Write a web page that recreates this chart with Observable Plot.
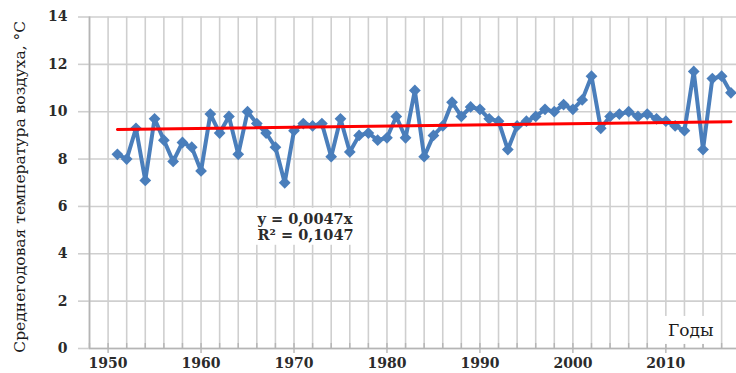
<!DOCTYPE html>
<html>
<head>
<meta charset="utf-8">
<script src="https://cdn.jsdelivr.net/npm/d3@7"></script>
<script src="https://cdn.jsdelivr.net/npm/@observablehq/plot@0.6"></script>
<style>
  html, body { margin: 0; padding: 0; background: #fff; }
  svg { display: block; }
</style>
</head>
<body>
<div id="chart"></div>
<script>
// ---- data ----
const years = [1951,1952,1953,1954,1955,1956,1957,1958,1959,1960,
               1961,1962,1963,1964,1965,1966,1967,1968,1969,1970,
               1971,1972,1973,1974,1975,1976,1977,1978,1979,1980,
               1981,1982,1983,1984,1985,1986,1987,1988,1989,1990,
               1991,1992,1993,1994,1995,1996,1997,1998,1999,2000,
               2001,2002,2003,2004,2005,2006,2007,2008,2009,2010,
               2011,2012,2013,2014,2015,2016,2017];
const temps = [8.2,8.0,9.3,7.1,9.7,8.8,7.9,8.7,8.5,7.5,
               9.9,9.1,9.8,8.2,10.0,9.5,9.1,8.5,7.0,9.2,
               9.5,9.4,9.5,8.1,9.7,8.3,9.0,9.1,8.8,8.9,
               9.8,8.9,10.9,8.1,9.0,9.4,10.4,9.8,10.2,10.1,
               9.7,9.6,8.4,9.4,9.6,9.8,10.1,10.0,10.3,10.1,
               10.5,11.5,9.3,9.8,9.9,10.0,9.8,9.9,9.7,9.6,
               9.4,9.2,11.7,8.4,11.4,11.5,10.8];
const trendYears = [1951, 2017];
const trendTemps = [9.25, 9.58];
const yTicks = [0, 2, 4, 6, 8, 10, 12, 14];
const xTickLabels = [1950, 1960, 1970, 1980, 1990, 2000, 2010];
const gridYears = [1948,1950,1952,1954,1956,1958,1960,1962,1964,1966,1968,
                   1970,1972,1974,1976,1978,1980,1982,1984,1986,1988,
                   1990,1992,1994,1996,1998,2000,2002,2004,2006,2008,
                   2010,2012,2014,2016];
const yTitle = "Среднегодовая температура воздуха, °С";
const xTitle = "Годы";
const equation = "y = 0,0047x\nR² = 0,1047";

// ---- tables built from the arrays ----
const series = years.map((y, i) => ({year: y, temp: temps[i]}));
const trend = trendYears.map((y, i) => ({year: y, temp: trendTemps[i]}));

const blue = "#4a7ebb";
const grid = "#cfcfcf";
const labelColor = "#2b2b2b";

const plot = Plot.plot({
  width: 736,
  height: 373,
  marginLeft: 89,
  marginRight: 0,
  marginTop: 16.5,
  marginBottom: 25,
  style: {background: "#fff", overflow: "hidden"},
  x: {domain: [1948, 2017.6], axis: null, label: null},
  y: {domain: [0, 14], axis: null, label: null},
  marks: [
    Plot.gridX(gridYears, {stroke: grid, strokeOpacity: 1, strokeWidth: 1.6}),
    Plot.axisY(yTicks, {
      anchor: "left", tickSize: 11, tickPadding: 11,
      stroke: grid, strokeWidth: 1.6, fill: labelColor,
      fontSize: 14, fontWeight: "bold", fontFamily: "DejaVu Serif",
      label: null
    }),
    Plot.gridY(yTicks, {stroke: grid, strokeOpacity: 1, strokeWidth: 1.6}),
    Plot.ruleX([1948], {stroke: "#b5b5b5", strokeWidth: 1.6}),
    Plot.ruleY([0], {stroke: "#b5b5b5", strokeWidth: 1.6}),
    Plot.axisX(gridYears, {
      anchor: "bottom", tickSize: -5, tickFormat: () => "",
      stroke: "#b5b5b5", strokeWidth: 1.4, label: null
    }),
    Plot.axisX(xTickLabels, {
      anchor: "bottom", tickSize: 5, tickPadding: 5,
      tickFormat: d => String(d),
      stroke: "#b5b5b5", strokeWidth: 1.4, fill: labelColor,
      fontSize: 14, fontWeight: "bold", fontFamily: "DejaVu Serif",
      label: null
    }),
    Plot.text([yTitle], {
      frameAnchor: "left", rotate: -90, dx: -69, dy: 4,
      textAnchor: "middle", lineAnchor: "middle",
      fontSize: 15.5, fontFamily: "DejaVu Serif", fill: "#1a1a1a"
    }),
    Plot.text([xTitle], {
      frameAnchor: "bottom-right", dx: -23, dy: -18,
      textAnchor: "end", lineAnchor: "middle",
      fontSize: 17, fontFamily: "DejaVu Serif", fill: "#1a1a1a"
    }),
    Plot.text([equation], {
      frameAnchor: "top-left", dx: 168, dy: 195.5,
      textAnchor: "start", lineAnchor: "top", lineHeight: 1.1,
      fontSize: 14.5, fontWeight: "bold", fontFamily: "DejaVu Serif", fill: "#2b2b2b"
    }),
    Plot.line(series, {x: "year", y: "temp", stroke: blue, strokeWidth: 4, curve: "linear"}),
    Plot.dot(series, {x: "year", y: "temp", symbol: "diamond2", r: 5.3, fill: blue, stroke: null}),
    Plot.line(trend, {x: "year", y: "temp", stroke: "#ff0000", strokeWidth: 3})
  ]
});

document.getElementById("chart").appendChild(plot);

// white label boxes behind the annotation texts (as in the reference)
const svg = d3.select(plot);
function boxBehind(match, padX, padY) {
  svg.selectAll("text").filter(function() { return match(this.textContent); }).each(function() {
    const b = this.getBBox();
    d3.select(this.parentNode).insert("rect", () => this)
      .attr("transform", this.getAttribute("transform"))
      .attr("x", b.x - padX).attr("y", b.y - padY)
      .attr("width", b.width + 2 * padX).attr("height", b.height + 2 * padY)
      .attr("fill", "#fff");
  });
}
boxBehind(t => t === xTitle, 6, 4);
boxBehind(t => t.startsWith("y ="), 4, 2);
</script>
</body>
</html>
